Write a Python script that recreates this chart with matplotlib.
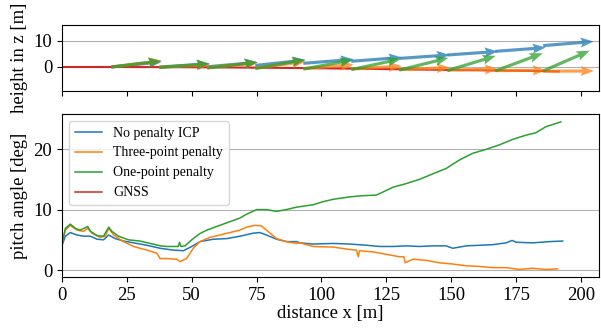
import numpy as np
import matplotlib.pyplot as plt
from matplotlib.ticker import MultipleLocator

plt.rcParams['font.family'] = 'serif'
plt.rcParams['font.serif'] = ['Liberation Serif', 'DejaVu Serif']
plt.rcParams['font.size'] = 13.4

c = ['tab:blue', 'tab:orange', 'tab:green', 'tab:red']
labels = ['No penalty ICP', 'Three-point penalty', 'One-point penalty', 'GNSS']

# pitch angle [deg] vs distance [m]
dist_icp = [0, 1.3, 3.2, 5.8, 8.3, 10.9, 13.5, 16, 18, 20.5, 23.7, 27.6, 32.7, 37.8,
            42.9, 46.8, 50, 53.2, 58.3, 63.5, 68.6, 73.7, 76.3, 78.8, 82.7, 86.5,
            90.4, 91.7, 96.8, 104.5, 110.9, 117.4, 122.5, 127.6, 132.7, 137.8, 142.9,
            148.1, 150.6, 155.8, 160.9, 166, 171.2, 173.5, 175, 181.4, 187.8, 193]
pitch_icp = [4.1, 5.6, 6.2, 5.8, 5.6, 5.6, 5.1, 5.0, 5.8, 5.2, 4.8, 4.5, 4.1, 3.6,
             3.3, 3.2, 3.9, 4.7, 5.1, 5.2, 5.6, 6.1, 6.2, 5.8, 5.1, 4.7,
             4.7, 4.5, 4.3, 4.4, 4.3, 4.1, 3.9, 3.9, 4.0, 3.9, 4.0,
             4.0, 3.6, 4.0, 4.1, 4.2, 4.5, 4.9, 4.6, 4.5, 4.7, 4.8]

dist_three = [0, 1.3, 3.2, 5.8, 8.3, 9.9, 11.5, 14.7, 16.7, 18, 19.9, 23.7, 27.6,
              32.7, 36.5, 37.8, 40.4, 44.2, 45.5, 48, 50.6, 53.2, 57, 60.9, 64.7,
              68.6, 71.2, 74.4, 76.9, 78.8, 82.7, 86.5, 90.4, 91.7, 96.8, 104.5,
              110.9, 113.5, 114.2, 114.7, 119.9, 125, 130.1, 131.8, 132.3, 135.3,
              140.4, 145.5, 150.6, 155.8, 160.9, 166, 171.2, 176.3, 181.4, 186.5, 191]
pitch_three = [4.4, 6.6, 7.4, 6.6, 6.4, 6.9, 6.1, 5.4, 5.6, 6.9, 5.8, 4.7, 3.9,
               3.3, 2.8, 1.9, 1.9, 1.8, 1.4, 1.9, 3.6, 4.7, 5.4, 5.8, 6.2,
               6.6, 7.1, 7.4, 7.3, 6.6, 5.2, 4.7, 4.4, 4.5, 3.9, 3.8,
               3.4, 3.3, 2.2, 3.2, 3.0, 2.6, 2.2, 2.2, 1.2, 1.8,
               1.6, 1.2, 1.0, 0.7, 0.6, 0.4, 0.4, 0.1, 0.3, 0.1, 0.2]

dist_one = [0, 1.3, 3.2, 5.1, 7, 9.9, 11, 13.5, 16, 18, 19.2, 21.8, 25.6, 30, 35,
            38, 40.4, 44.8, 45.3, 45.8, 47.4, 50, 53, 55.8, 59.6, 64.7, 68.6, 71,
            75, 78.8, 82.7, 86.5, 90.4, 96.8, 100.6, 104.5, 110.9, 116, 121.2,
            123.7, 127.6, 132.7, 137.8, 142.9, 148.1, 153.2, 158.3, 163.4, 168.6,
            173.7, 178.8, 182.7, 186.5, 192.3]
pitch_one = [4.4, 6.9, 7.6, 6.9, 6.6, 7.2, 6.4, 5.7, 5.6, 7.1, 6.4, 5.6, 5.0, 4.8, 4.3,
             4.0, 3.9, 3.9, 4.6, 3.9, 4.0, 5.0, 6.0, 6.6, 7.2, 8.0, 8.6, 9.2,
             10.0, 10.0, 9.7, 10.0, 10.4, 10.8, 11.3, 11.7, 12.1, 12.3, 12.4,
             12.9, 13.7, 14.3, 15.0, 15.9, 16.8, 18.2, 19.3, 19.95, 20.7,
             21.6, 22.3, 22.7, 23.7, 24.5]

# GNSS height track [m]
gnss_x = [0, 20, 40, 60, 80, 100, 120, 140, 160, 180, 191.5]
gnss_z = [0, 0, -0.05, -0.15, -0.3, -0.5, -0.75, -1.0, -1.25, -1.5, -1.7]

# arrow start points along x and the height / pitch at each
arrow_x = [19, 37.5, 56, 74.5, 93, 111.5, 130, 148.5, 167, 185.5]
z_icp = [0.0, 0.0, 0.1, 0.6, 1.4, 2.2, 3.3, 4.6, 6.0, 8.2]
z_three = [0.0, -0.1, -0.2, -0.4, -0.6, -0.8, -1.0, -1.2, -1.4, -1.6]
z_one = [0.0, -0.2, -0.4, -0.6, -0.8, -1.0, -1.2, -1.4, -1.5, -1.5]
ang_icp = [5.8, 3.7, 5.0, 6.1, 4.5, 4.3, 3.9, 4.0, 4.2, 4.6]
ang_three = [6.9, 2.8, 5.2, 7.4, 4.4, 3.4, 2.2, 1.1, 0.4, 0.2]
ang_one = [7.0, 4.2, 6.6, 10.0, 10.4, 12.1, 13.9, 16.8, 20.3, 23.4]
arrow_len = 19.5

fig = plt.figure(figsize=(6.01, 3.31), dpi=100)
ax_top = fig.add_axes([0.1032, 0.7251, 0.8935, 0.1994])
ax = fig.add_axes([0.1032, 0.1631, 0.8935, 0.4924], sharex=ax_top)

# height with pitch arrows
ax_top.plot(gnss_x, gnss_z, c=c[3], lw=1.5, zorder=1)
q = dict(angles='xy', scale_units='xy', scale=1, width=0.0058, headwidth=3.2,
         headlength=4.2, headaxislength=3.7, alpha=0.75, zorder=2)
for zz, aa, col in zip([z_icp, z_three, z_one], [ang_icp, ang_three, ang_one], c[:3]):
    t = np.radians(aa)
    ax_top.quiver(arrow_x, zz, arrow_len*np.cos(t), arrow_len*np.sin(t), color=col, **q)
ax_top.set_ylim(-9.2, 16.1)
ax_top.yaxis.set_major_locator(MultipleLocator(10))
ax_top.grid(axis='y', color='#b0b0b0', lw=0.8)
ax_top.set_axisbelow(True)
ax_top.tick_params(labelbottom=False)
ax_top.set_ylabel('height in z [m]')

# pitch angle
ax.plot(dist_icp, pitch_icp, c=c[0], lw=1.1, label=labels[0])
ax.plot(dist_three, pitch_three, c=c[1], lw=1.1, label=labels[1])
ax.plot(dist_one, pitch_one, c=c[2], lw=1.1, label=labels[2])
ax.plot([], [], c=c[3], lw=1.1, label=labels[3])
ax.set_xlim(0, 207)
ax.set_ylim(-1.15, 25.8)
ax.xaxis.set_major_locator(MultipleLocator(25))
ax.yaxis.set_major_locator(MultipleLocator(10))
ax.grid(axis='y', color='#b0b0b0', lw=0.8)
ax.set_axisbelow(True)
ax.set_xlabel('distance x [m]', labelpad=1)
ax.set_ylabel('pitch angle [deg]')
ax.legend(loc='upper left', fontsize=10)

fig.align_ylabels([ax_top, ax])
plt.savefig('out.png', dpi=100)
